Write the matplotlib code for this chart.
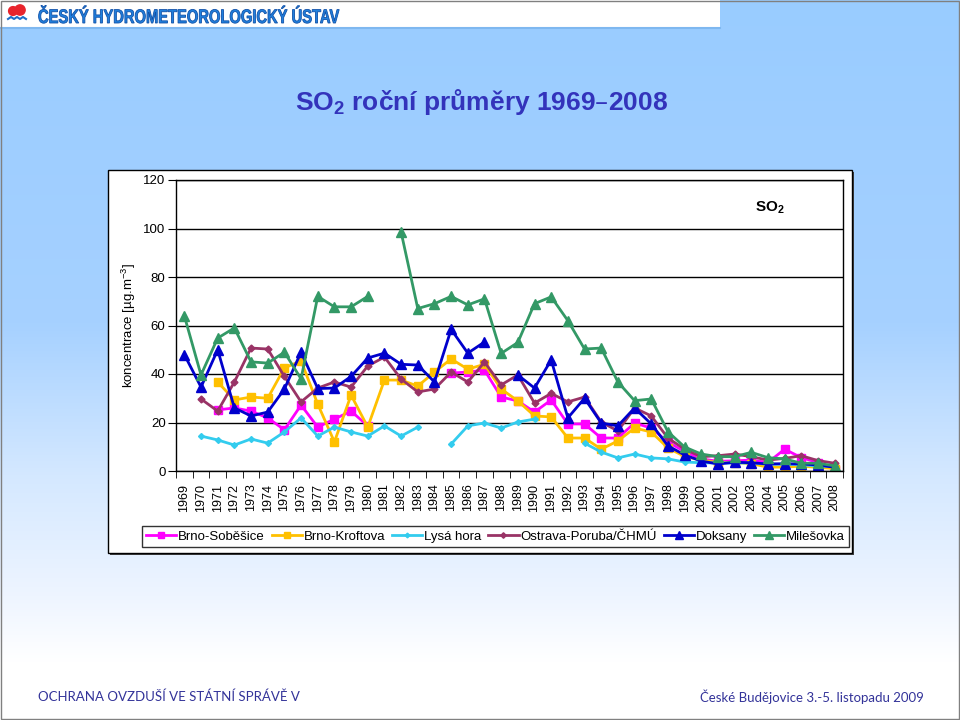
import numpy as np
import matplotlib.pyplot as plt
from matplotlib.patches import Rectangle, PathPatch
from matplotlib.colors import LinearSegmentedColormap
from matplotlib.textpath import TextPath
from matplotlib.font_manager import FontProperties
from matplotlib.transforms import Affine2D

plt.rcParams['font.family'] = ['Liberation Sans', 'DejaVu Sans']
plt.rcParams['mathtext.default'] = 'regular'

nan = np.nan
years = [str(y) for y in range(1969, 2009)]

sobesice = [nan, nan, 25.2, 26, 24.7, 21.9, 17, 27.2, 18.1, 21.4,
            24.7, 18.6, nan, nan, nan, nan, 40.4, 40.8, 41.6, 30.5,
            28.9, 24.3, 29.3, 19.4, 19.4, 13.6, 13.6, 19.8, 17.7, 12,
            8, 5, 4, 4.2, 4.5, 3.5, 9, 5.5, 3.5, 0.5]
kroftova = [nan, nan, 36.7, 29.3, 30.5, 30, 42.5, 45.4, 27.6, 12,
            31.3, 18.1, 37.5, 37.5, 35, 40.8, 46.2, 42, 44, 33.8,
            28.9, 22.7, 22.3, 13.6, 13.6, 9, 12.4, 17.7, 16.1, 9.5,
            6, 4.5, 3.5, 3.5, 3, 1.6, 1.6, 2.0, 1.5, 1.0]
lysa_hora = [nan, 14.4, 12.8, 10.7, 13.2, 11.5, 16.1, 21.9, 14.4, 18.1,
             16.1, 14.4, 18.6, 14.4, 18.1, nan, 11.1, 18.6, 19.8, 17.7,
             20.2, 21.4, nan, nan, 11.5, 7.8, 5.4, 7, 5.4, 5,
             3.7, 3.4, 3.3, 3.3, 3.3, 2.8, 2.8, 2.6, 2.0, 1.8]
ostrava = [nan, 29.7, 24.7, 36.7, 50.7, 50.3, 39, 28.5, 34.2, 36.7,
           34.6, 43.3, 47, 37.9, 32.6, 33.8, 40.8, 36.7, 44.9, 35.5,
           39.6, 28, 32, 28.5, 30.5, 20.2, 16.5, 26, 22.7, 13.6,
           9, 5.9, 6.3, 7, 5.9, 4.5, 5.2, 6.3, 4.3, 3.2]
doksany = [48, 34.6, 50, 26, 22.7, 24.3, 33.8, 49, 34, 34.2,
           39, 46.6, 48.6, 44, 43.7, 36.7, 58.4, 48.6, 53.2, nan,
           39.6, 34.2, 45.8, 21.9, 30, 19.8, 18.6, 26, 19.4, 10.4,
           6.6, 4.1, 2.9, 3.6, 3.4, 2.9, 3.0, 2.9, 2.5, 1.5]
milesovka = [64, 39.6, 54.8, 59, 45, 44.5, 49, 38, 72, 67.7,
             67.7, 72, nan, 98.5, 67, 69, 72, 68.5, 71, 48.5,
             53, 69, 71.8, 62, 50.3, 50.7, 36.7, 29, 29.7, 16.2,
             9.9, 7, 5.9, 5.9, 7.7, 5.5, 5, 3.2, 3.2, 2.1]

series = [
    ('Brno-Soběšice', sobesice, '#FF00FF', 's', 5.5),
    ('Brno-Kroftova', kroftova, '#FFC000', 's', 5.5),
    ('Lysá hora', lysa_hora, '#33CCEE', 'D', 3),
    ('Ostrava-Poruba/ČHMÚ', ostrava, '#993366', 'D', 3.5),
    ('Doksany', doksany, '#0000CC', '^', 7.5),
    ('Milešovka', milesovka, '#339966', '^', 7.5),
]

fig = plt.figure(figsize=(9.6, 7.2), dpi=100)

# slide background in pixel coordinates
bg = fig.add_axes([0, 0, 1, 1])
bg.set_xlim(0, 960)
bg.set_ylim(720, 0)
bg.axis('off')
grad = LinearSegmentedColormap.from_list(
    'slide', [(0, '#99CCFF'), (0.45, '#A6D1FF'), (0.66, '#D4E8FF'),
              (0.83, '#EEF5FF'), (0.92, '#FFFFFF'), (1, '#FFFFFF')])
bg.imshow(np.linspace(0, 1, 256).reshape(-1, 1), cmap=grad, aspect='auto',
          extent=[0, 960, 720, 0], zorder=0)
bg.add_patch(Rectangle((0, 0), 720, 27, facecolor='white', edgecolor='none', zorder=1))
bg.plot([0, 720], [27.5, 27.5], color='#7FB8F0', lw=1.5, zorder=1)
bg.add_patch(Rectangle((0.5, 0.5), 958.5, 718, facecolor='none', edgecolor='#808080', lw=1, zorder=1))

# header logo + condensed bold text
bg.scatter([13, 20], [11, 10], s=[40, 55], color='#E8242C', zorder=2)
bg.plot([8, 11, 14, 17, 20, 23, 26], [19, 17, 19, 17, 19, 17, 19], color='#1F6FC8', lw=1.5, zorder=2)
hdr = TextPath((0, 0), 'ČESKÝ HYDROMETEOROLOGICKÝ ÚSTAV', size=19.5,
               prop=FontProperties(family='Liberation Sans', weight='bold'))
hdr = Affine2D().scale(0.755, -1).translate(38, 23).transform_path(hdr)
bg.add_patch(PathPatch(hdr, facecolor='#2080DD', edgecolor='#1050A8', lw=0.6, zorder=2))

# title
bg.text(482, 102, 'SO$_2$ roční průměry 1969–2008', fontsize=19, fontweight='bold',
        color='#3333BB', ha='center', va='center', zorder=2)

# chart box with shadow
bg.add_patch(Rectangle((110, 172), 744, 383, facecolor='#404040', edgecolor='none', zorder=1))
bg.add_patch(Rectangle((108, 170), 744, 383, facecolor='white', edgecolor='black', lw=1, zorder=2))

# footer
bg.text(38, 697, 'OCHRANA OVZDUŠÍ VE STÁTNÍ SPRÁVĚ V', fontsize=9.5, color='#333399',
        ha='left', va='center', zorder=2, family=['Lato', 'DejaVu Sans'])
bg.text(924, 697, 'České Budějovice 3.-5. listopadu 2009', fontsize=9.5, color='#333399',
        ha='right', va='center', zorder=2, family=['Lato', 'DejaVu Sans'])

# main chart
ax = fig.add_axes([176 / 960, 1 - 471 / 720, 667 / 960, 291 / 720])
ax.set_facecolor('white')
x = np.arange(len(years))
for name, vals, color, marker, ms in series:
    ax.plot(x, vals, color=color, lw=2, marker=marker, markersize=ms,
            markeredgecolor=color, label=name)

ax.set_xlim(-0.5, len(years) - 0.5)
ax.set_ylim(0, 120)
ax.set_yticks(range(0, 121, 20))
ax.yaxis.grid(True, color='black', lw=1)
ax.set_axisbelow(True)
ax.tick_params(axis='y', labelsize=9.5, length=6, direction='out', pad=1.5)
ax.set_xticks(x)
ax.set_xticklabels(years, rotation=90, fontsize=9)
ax.set_xticks(np.arange(-0.5, len(years), 1), minor=True)
ax.tick_params(axis='x', which='major', length=0, pad=9)
ax.tick_params(axis='x', which='minor', length=5, direction='out')
for sp in ax.spines.values():
    sp.set_color('black')
    sp.set_linewidth(1)
ax.set_ylabel('koncentrace [µg.m$^{-3}$]', fontsize=9.5, labelpad=4)
ax.text(0.89, 0.905, 'SO$_2$', transform=ax.transAxes, fontsize=11,
        fontweight='bold', ha='center', va='center')

leg = ax.legend(loc='center left', bbox_to_anchor=(142 / 960, 1 - 536.5 / 720),
                bbox_transform=fig.transFigure, borderaxespad=0,
                ncol=6, fontsize=9.5, frameon=True, fancybox=False, edgecolor='black',
                handlelength=2.3, handletextpad=0.15, columnspacing=0.5,
                borderpad=0.3, markerscale=0.8)
leg.get_frame().set_linewidth(1)

fig.savefig('out.png', dpi=100)
